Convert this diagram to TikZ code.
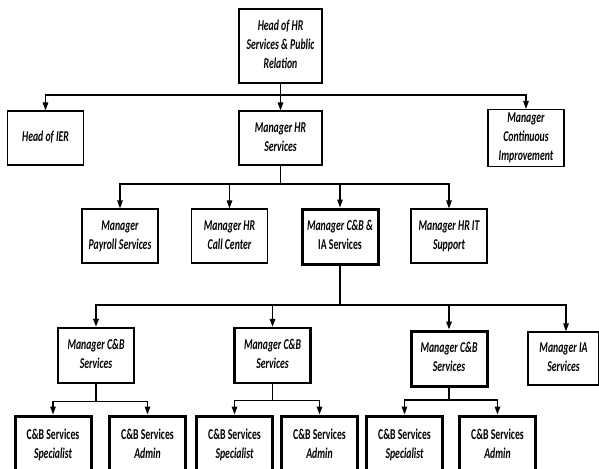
\documentclass[tikz,border=0pt]{standalone}
\usepackage{fontspec}
\setmainfont{Carlito}
\usepackage{graphicx}
\usetikzlibrary{arrows.meta}
\newcommand\tx[1]{\scalebox{0.65}[1]{\begin{tabular}{@{}c@{}}#1\end{tabular}}}
\begin{document}
\begin{tikzpicture}[x=1pt,y=-1pt,
  box/.style={draw, line width=1.1pt, inner sep=0pt, align=center,
    minimum width=76pt, minimum height=54pt,
    font=\fontsize{15}{19}\selectfont\bfseries\itshape},
  tbox/.style={box, line width=3pt},
  mbox/.style={box, line width=2.5pt, minimum height=55pt},
  conn/.style={line width=1.3pt},
  arr/.style={conn, -{Triangle[width=5.5pt,length=8pt]}},
]
\useasboundingbox (0,0) rectangle (599,468);
\clip (0,0) rectangle (599,468);

% level 0
\node[box, minimum width=83pt, minimum height=74pt] (top) at (280.5,46) {\tx{Head of HR\\Services \& Public\\Relation}};
% level 1
\node[box] (ier) at (45.5,138) {\tx{Head of IER}};
\node[box, minimum width=83pt] (hrs) at (280.5,138) {\tx{Manager HR\\Services}};
\node[box] (ci) at (526,138) {\tx{Manager\\Continuous\\Improvement}};
% level 2
\node[box] (pay) at (120,236) {\tx{Manager\\Payroll Services}};
\node[box] (call) at (229.5,236) {\tx{Manager HR\\Call Center}};
\node[tbox, minimum height=55pt] (cbia) at (340,236.5) {\tx{Manager C\&B \&\\\upshape IA Services}};
\node[box] (hrit) at (449,236) {\tx{Manager HR IT\\Support}};
% level 3
\node[mbox] (m1) at (96,355.5) {\tx{Manager C\&B\\Services}};
\node[mbox] (m2) at (272.5,355.5) {\tx{Manager C\&B\\Services}};
\node[tbox, minimum height=55pt] (m3) at (449,358.5) {\tx{Manager C\&B\\Services}};
\node[box, minimum width=71pt, minimum height=53pt] (ia) at (563.5,358.5) {\tx{Manager IA\\Services}};
% level 4
\node[tbox, minimum height=58pt] (sp1) at (53,445) {\tx{\upshape C\&B Services\\Specialist}};
\node[tbox, minimum height=58pt] (ad1) at (147.5,445) {\tx{\upshape C\&B Services\\Admin}};
\node[tbox, minimum height=58pt] (sp2) at (234.5,445) {\tx{\upshape C\&B Services\\Specialist}};
\node[tbox, minimum height=58pt] (ad2) at (319.5,445) {\tx{\upshape C\&B Services\\Admin}};
\node[tbox, minimum height=58pt] (sp3) at (404.5,445) {\tx{\upshape C\&B Services\\Specialist}};
\node[tbox, minimum height=58pt] (ad3) at (497.5,445) {\tx{\upshape C\&B Services\\Admin}};

% connectors level 0 -> 1
\coordinate (b1) at (280.5,95);
\draw[conn] (top.south) -- (b1);
\draw[arr] (b1) -| (ier.north);
\draw[arr] (b1) -- (hrs.north);
\draw[arr] (b1) -| (ci.north);
% level 1 -> 2
\coordinate (b2) at (280.5,184);
\draw[conn] (hrs.south) -- (b2);
\draw[arr] (b2) -| (pay.north);
\draw[arr] (b2) -| (call.north);
\draw[arr] (b2) -| (cbia.north);
\draw[arr] (b2) -| (hrit.north);
% level 2 -> 3
\coordinate (b3) at (340,305);
\coordinate (b3r) at (449,305);
\draw[conn, line width=2pt] (cbia.south) -- (b3);
\draw[arr, line width=1.8pt] (b3) -| (m1.north);
\draw[arr, line width=1.8pt] (b3) -| (m2.north);
\draw[arr, line width=1.8pt] (b3) -| (m3.north);
\draw[arr] (b3r) -| ([xshift=2.5pt]ia.north);
% level 3 -> 4
\coordinate (s1) at (96,401.5);
\coordinate (s2) at (272.5,400.5);
\coordinate (s3) at (449,400);
\draw[conn] (m1.south) -- (s1);
\draw[arr] (s1) -| (sp1.north);
\draw[arr] (s1) -| (ad1.north);
\draw[conn] (m2.south) -- (s2);
\draw[arr] (s2) -| (sp2.north);
\draw[arr] (s2) -| (ad2.north);
\draw[conn] (m3.south) -- (s3);
\draw[arr] (s3) -| (sp3.north);
\draw[arr] (s3) -| (ad3.north);
\end{tikzpicture}
\end{document}
